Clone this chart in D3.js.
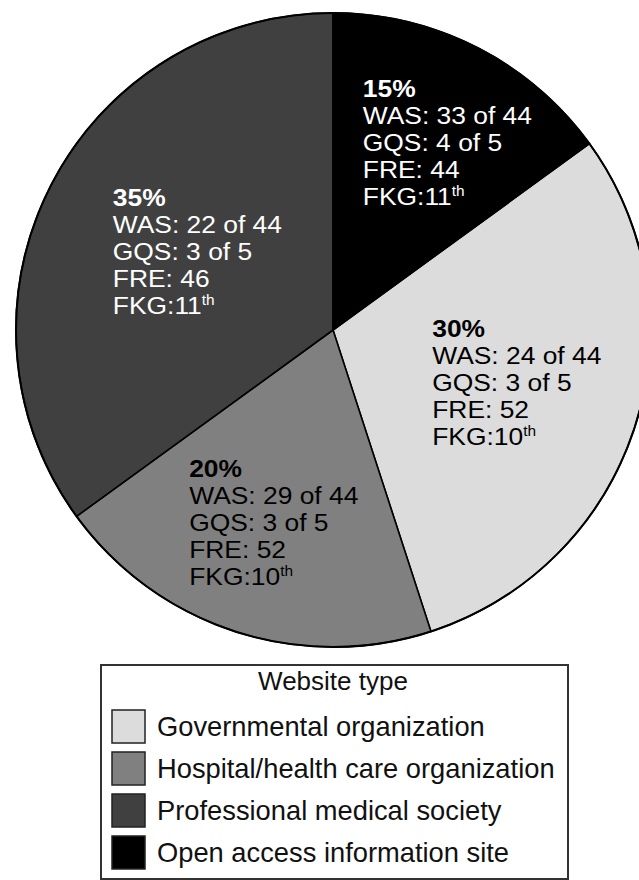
<!DOCTYPE html>
<html lang="en">
<head>
    <meta charset="UTF-8">
    <title>Website type</title>
    <script type="application/javascript" src="https://cdnjs.cloudflare.com/ajax/libs/d3/7.8.5/d3.min.js"></script>
    <style type="text/css">
        body {
            margin: 0;
            background: #fff;
        }
        text {
            font-family: "Liberation Sans", Arial, Helvetica, sans-serif;
        }
    </style>
</head>
<body>
<svg id="pie" width="639" height="880"></svg>
<script type="application/javascript">
    // legend order; the pie starts at 12 o'clock with the last one (open access)
    var categories = ['Governmental organization', 'Hospital/health care organization',
        'Professional medical society', 'Open access information site'];
    var shares = [30, 20, 35, 15];
    var was = ['24 of 44', '29 of 44', '22 of 44', '33 of 44'];
    var gqs = ['3 of 5', '3 of 5', '3 of 5', '4 of 5'];
    var fre = [52, 52, 46, 44];
    var fkg = ['10', '10', '11', '11'];
    var legendTitle = 'Website type';

    var fills = ['#dcdcdc', '#808080', '#404040', '#000000'];
    var textFills = ['#000', '#000', '#fff', '#fff'];
    // small nudges of each label block from the arc centroid (left edge, first baseline)
    var labelNudge = [[-91, -55], [-82, -43], [-42, -33], [-61, -55]];

    var svg = d3.select('#pie');
    var cx = 333, cy = 330, radius = 317;
    var lineStep = 27;
    var stretch = 1.1;

    var pie = d3.pie()
            .sort(null)
            .value(function (d) { return d; })
            .startAngle(Math.PI * 2 * 0.15)
            .endAngle(Math.PI * 2 * 1.15);

    var arc = d3.arc().innerRadius(0).outerRadius(radius);
    var labelArc = d3.arc().innerRadius(200).outerRadius(200);

    var g = svg.append('g')
            .attr('transform', 'translate(' + cx + ',' + cy + ')');

    var arcs = pie(shares);

    g.selectAll('.slice')
            .data(arcs)
            .enter()
            .append('path')
            .attr('class', 'slice')
            .attr('d', arc)
            .attr('fill', function (d, i) { return fills[i]; })
            .attr('stroke', '#000')
            .attr('stroke-width', 1.6)
            .attr('stroke-linejoin', 'round');

    g.append('circle')
            .attr('r', radius)
            .attr('fill', 'none')
            .attr('stroke', '#000')
            .attr('stroke-width', 2);

    function addLine(parent, x, y, fill, weight) {
        return parent.append('text')
                .attr('transform', 'translate(' + x + ',' + y + ') scale(' + stretch + ',1)')
                .attr('fill', fill)
                .attr('font-size', 24)
                .attr('font-weight', weight || 'normal');
    }

    arcs.forEach(function (d, i) {
        var c = labelArc.centroid(d);
        var x = c[0] + labelNudge[i][0];
        var y = c[1] + labelNudge[i][1];
        var col = textFills[i];
        addLine(g, x, y, col, 'bold').text(shares[i] + '%');
        addLine(g, x, y + lineStep, col).text('WAS: ' + was[i]);
        addLine(g, x, y + lineStep * 2, col).text('GQS: ' + gqs[i]);
        addLine(g, x, y + lineStep * 3, col).text('FRE: ' + fre[i]);
        var t = addLine(g, x, y + lineStep * 4, col);
        t.append('tspan').text('FKG:' + fkg[i]);
        t.append('tspan').attr('dy', -9).attr('font-size', 14).text('th');
    });

    // legend
    var lg = svg.append('g');
    lg.append('rect')
            .attr('x', 101)
            .attr('y', 665)
            .attr('width', 467)
            .attr('height', 214)
            .attr('fill', '#fff')
            .attr('stroke', '#333')
            .attr('stroke-width', 2);

    lg.append('text')
            .attr('x', 333)
            .attr('y', 690)
            .attr('text-anchor', 'middle')
            .attr('font-size', 26)
            .attr('fill', '#111')
            .text(legendTitle);

    var row = d3.scaleBand()
            .domain(categories)
            .range([710, 869])
            .paddingInner(0.214);

    var items = lg.selectAll('.item')
            .data(categories)
            .enter()
            .append('g')
            .attr('class', 'item')
            .attr('transform', function (d) { return 'translate(112,' + row(d) + ')'; });

    items.append('rect')
            .attr('width', row.bandwidth())
            .attr('height', row.bandwidth())
            .attr('fill', function (d, i) { return fills[i]; })
            .attr('stroke', '#222')
            .attr('stroke-width', 1.5);

    items.append('text')
            .attr('x', 45)
            .attr('y', 26)
            .attr('font-size', 27.3)
            .attr('fill', '#111')
            .text(function (d) { return d; });
</script>
</body>
</html>
